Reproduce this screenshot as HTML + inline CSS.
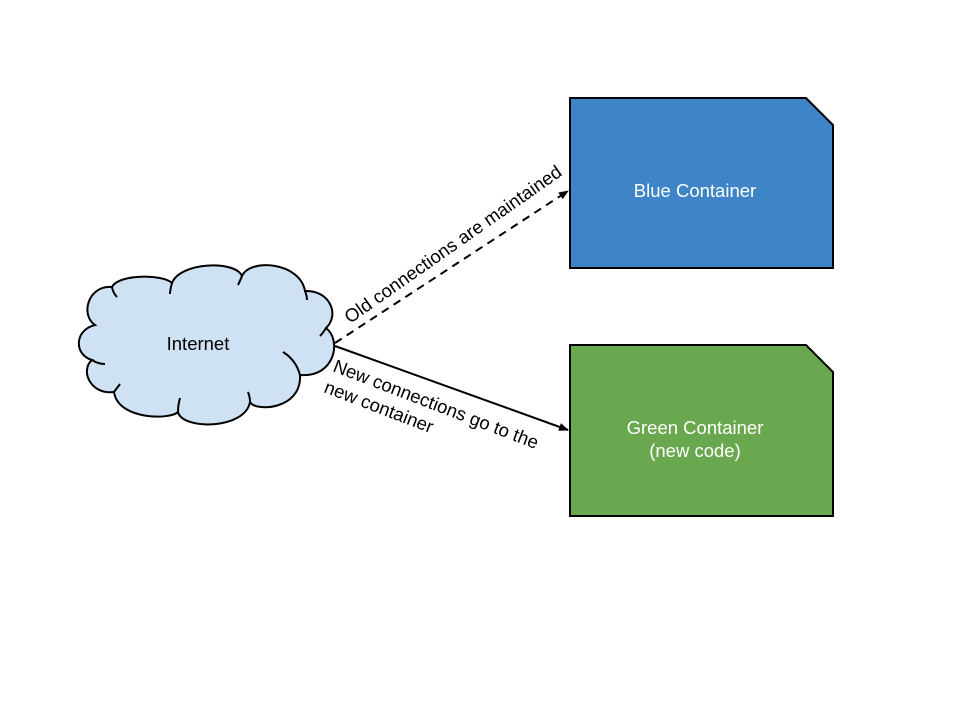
<!DOCTYPE html>
<html><head><style>body{margin:0;background:#fff}svg{display:block}</style></head><body>
<svg width="960" height="720" viewBox="0 0 960 720" xmlns="http://www.w3.org/2000/svg" font-family="Liberation Sans, Arial, sans-serif">
<defs>
<marker id="a" markerWidth="10" markerHeight="8" refX="9" refY="4" orient="auto" markerUnits="userSpaceOnUse"><path d="M0,0 L10,4 L0,8 z" fill="#000"/></marker>
</defs>
<path d="M570,98 H806 L833,125 V268 H570 Z" fill="#3d85c6" stroke="#000" stroke-width="2"/>
<text x="695" y="197" font-size="18.5" fill="#fff" text-anchor="middle">Blue Container</text>
<path d="M570,345 H806 L833,372 V516 H570 Z" fill="#6aa84f" stroke="#000" stroke-width="2"/>
<text x="695" y="434" font-size="18.5" fill="#fff" text-anchor="middle">Green Container</text>
<text x="695" y="457" font-size="18.5" fill="#fff" text-anchor="middle">(new code)</text>
<path d="M95,325 C80,315 88,285 112,287 C118,274 163,274 172,283 C180,262 235,260 242,276 C250,258 300,262 305,291 C330,290 340,315 326,328 C342,340 335,378 300,375 C302,410 255,412 250,402 C245,430 182,430 178,412 C170,420 118,420 114,392 C90,395 80,370 92,360 C74,355 74,330 95,325 Z" fill="#cfe2f3" stroke="#000" stroke-width="2"/>
<path d="M112,287 Q113,293 117,297 M172,283 Q170,290 170,294 M242,276 Q240,281 238,285 M305,291 Q307,296 307,300 M326,328 Q323,333 320,336 M300,375 Q296,360 283,352 M250,402 Q250,397 248,392 M178,412 Q178,405 180,398 M114,392 Q117,388 120,384 M92,360 Q98,364 105,364" fill="none" stroke="#000" stroke-width="2"/>
<text x="198" y="350" font-size="18.5" fill="#000" text-anchor="middle">Internet</text>
<line x1="335" y1="343" x2="568" y2="191" stroke="#000" stroke-width="2" stroke-dasharray="8,6" marker-end="url(#a)"/>
<line x1="335" y1="346" x2="568" y2="430" stroke="#000" stroke-width="2" marker-end="url(#a)"/>
<text transform="translate(350,324) rotate(-35)" font-size="18.5" fill="#000">Old connections are maintained</text>
<text transform="translate(332,371) rotate(21)" font-size="18.5" fill="#000">New connections go to the</text>
<text transform="translate(323,392) rotate(21)" font-size="18.5" fill="#000">new container</text>
</svg>
</body></html>
